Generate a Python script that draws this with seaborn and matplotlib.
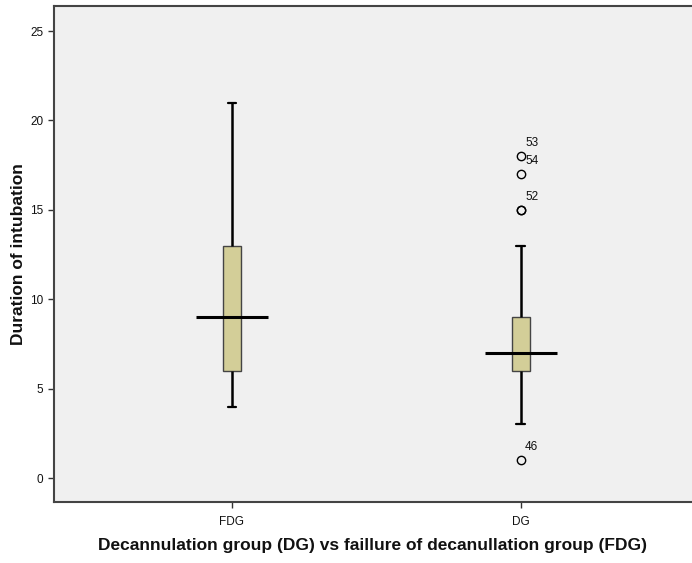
import numpy as np
import pandas as pd
import seaborn as sns
import matplotlib.pyplot as plt

# Group labels and raw durations
groups = ['FDG', 'DG']
fdg_values = [4, 5, 6, 6, 8, 9, 9, 10, 12, 13, 13, 16, 21]
dg_values = [1, 3, 4, 5, 5, 5, 6, 6, 6, 6, 6, 6, 7, 7, 7, 7, 7, 7, 7, 7, 7,
             8, 8, 8, 8, 8, 9, 9, 9, 9, 9, 10, 10, 11, 11, 12, 13,
             15, 15, 17, 18]
# Case numbers printed next to the DG outliers
outlier_values = [18, 17, 15, 1]
outlier_ids = ['53', '54', '52', '46']
y_ticks = [0, 5, 10, 15, 20, 25]

df = pd.DataFrame({
    'group': ['FDG'] * len(fdg_values) + ['DG'] * len(dg_values),
    'duration': fdg_values + dg_values,
})

sns.set_style("white")
plt.rcParams['font.family'] = ['Arial', 'Liberation Sans', 'DejaVu Sans']

fig = plt.figure(figsize=(6.92, 5.63), dpi=100)
ax = fig.add_axes([54 / 692, 61 / 563, 1 - 54 / 692, 496.5 / 563])
ax.set_facecolor('#F0F0F0')

sns.boxplot(
    data=df, x='group', y='duration', order=groups, ax=ax,
    width=0.062, color='#D3CE98', saturation=1, whis=1.5,
    boxprops=dict(edgecolor='#444444', linewidth=1),
    whiskerprops=dict(color='black', linewidth=1.8),
    capprops=dict(color='black', linewidth=1.6),
    medianprops=dict(linewidth=0),
    flierprops=dict(marker='o', markersize=6, markerfacecolor='none',
                    markeredgecolor='black', markeredgewidth=1),
)

# SPSS-style median line, wider than the box
for i, vals in enumerate([fdg_values, dg_values]):
    ax.hlines(np.median(vals), i - 0.125, i + 0.125, color='black',
              linewidth=2.2, zorder=5)

# Outlier case labels
for val, lab in zip(outlier_values, outlier_ids):
    ax.annotate(lab, (1, val), xytext=(3, 5), textcoords='offset points',
                fontsize=8.5, color='#111111', va='bottom', ha='left')

ax.set_xlim(-0.616, 1.592)
ax.set_ylim(-1.34, 26.43)
ax.set_yticks(y_ticks)
ax.tick_params(axis='both', direction='out', length=4, width=1,
               color='#333333', labelsize=8.5, labelcolor='#111111',
               bottom=True, left=True)
ax.tick_params(axis='x', pad=6)
for side in ['left', 'bottom', 'top']:
    ax.spines[side].set_color('#444444')
    ax.spines[side].set_linewidth(1.5)
ax.spines['right'].set_visible(False)

ax.set_xlabel('Decannulation group (DG) vs faillure of decanullation group (FDG)',
              fontsize=12.5, fontweight='bold', labelpad=7, color='#111111')
ax.set_ylabel('Duration of intubation', fontsize=12.5, fontweight='bold',
              labelpad=3, color='#111111')

plt.savefig('out.png', dpi=100)
